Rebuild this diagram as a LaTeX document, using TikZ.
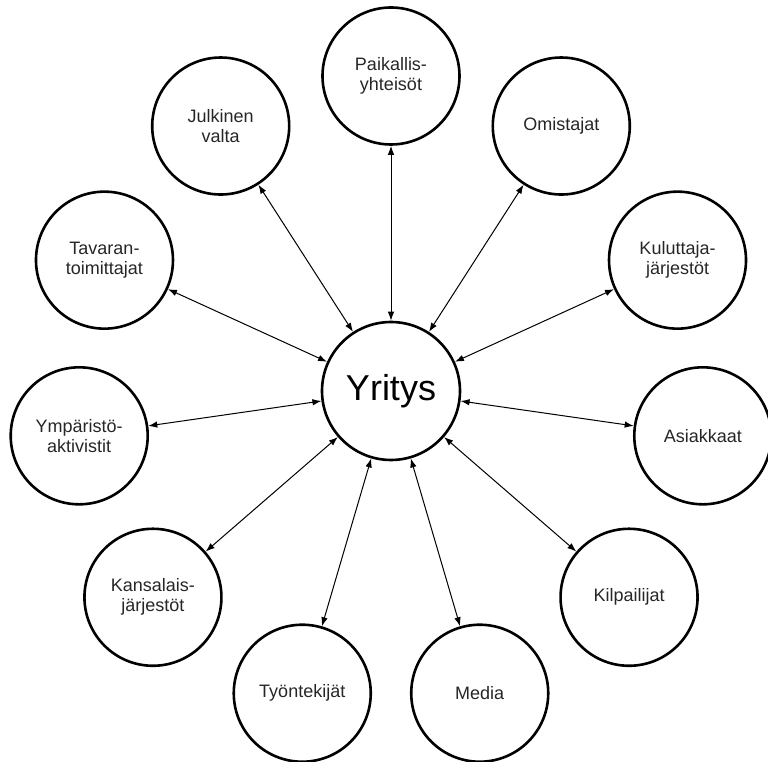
\documentclass[tikz,border=0pt]{standalone}
\usepackage{fontspec}
\setmainfont{Liberation Sans}
\usetikzlibrary{arrows.meta}
\begin{document}
\begin{tikzpicture}[x=1pt,y=1pt,
  party/.style={circle,draw,line width=2.6pt,inner sep=0pt,minimum size=137pt,
    align=center,font=\fontsize{18}{20}\selectfont,text=black!85},
  hub/.style={circle,draw,line width=2.6pt,inner sep=0pt,minimum size=138pt,
    font=\fontsize{36}{40}\selectfont},
  link/.style={{Latex[length=9pt,width=6.5pt]}-{Latex[length=9pt,width=6.5pt]},line width=1pt}]
\useasboundingbox (-391,-371) rectangle (377,391);
\node[hub] (c) at (0,0) {Yritys};
\foreach \k/\t in {0/{Paikallis-\\yhteisöt},1/Omistajat,2/{Kuluttaja-\\järjestöt},3/Asiakkaat,
  4/Kilpailijat,5/Media,6/Työntekijät,7/{Kansalais-\\järjestöt},8/{Ympäristö-\\aktivistit},
  9/{Tavaran-\\toimittajat},10/{Julkinen\\valta}}{
  \node[party] (n\k) at ({90-\k*360/11}:315) {\t};
  \draw[link] (c) -- (n\k);
}
\end{tikzpicture}
\end{document}
